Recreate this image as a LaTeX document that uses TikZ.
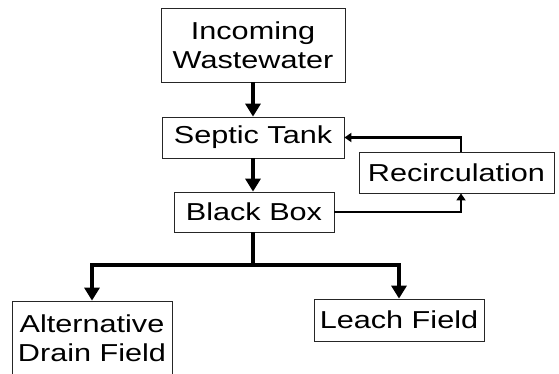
\documentclass[tikz,border=0pt]{standalone}
\usepackage{fontspec}
\setmainfont{Liberation Sans}[FakeStretch=1.25]
\usetikzlibrary{arrows.meta}
\begin{document}
\begin{tikzpicture}[x=1pt,y=-1pt,
  box/.style={draw=black!85,line width=0.8pt,rectangle,inner sep=0pt,align=center,
    font=\fontsize{24.5}{29}\selectfont},
  mainarrow/.style={line width=4pt,-{Triangle[width=15pt,length=13pt]}},
  mainline/.style={line width=4pt},
  recarrow/.style={line width=2.4pt,-{Triangle[width=9pt,length=7pt]}}]
\useasboundingbox (0,0) rectangle (559,374);
\clip (0,0) rectangle (559,374);
\node[box,minimum width=184pt,minimum height=74pt] (inc) at (253,45) {Incoming\\Wastewater};
\node[box,minimum width=182pt,minimum height=41pt] (sep) at (253,137.5) {Septic Tank};
\node[box,minimum width=160pt,minimum height=40pt] (bb) at (254,212) {Black Box};
\node[box,minimum width=195pt,minimum height=41pt] (rec) at (456.5,172.5) {Recirculation};
\node[box,minimum width=160pt,minimum height=74pt] (alt) at (92,338) {Alternative\\Drain Field};
\node[box,minimum width=170pt,minimum height=42pt] (leach) at (399,320) {Leach Field};
\coordinate (split) at (253,265);
\draw[mainarrow] (inc.south) -- (sep.north);
\draw[mainarrow] (sep.south) -- (sep.south |- bb.north);
\draw[mainline] (bb.south -| split) -- (split);
\draw[mainarrow] (split) -| (alt.north);
\draw[mainarrow] (split) -| (leach.north);
\draw[recarrow] (bb.east) -| ([xshift=4.5pt]rec.south);
\draw[recarrow] ([xshift=4.5pt]rec.north) |- (sep.east);
\end{tikzpicture}
\end{document}
